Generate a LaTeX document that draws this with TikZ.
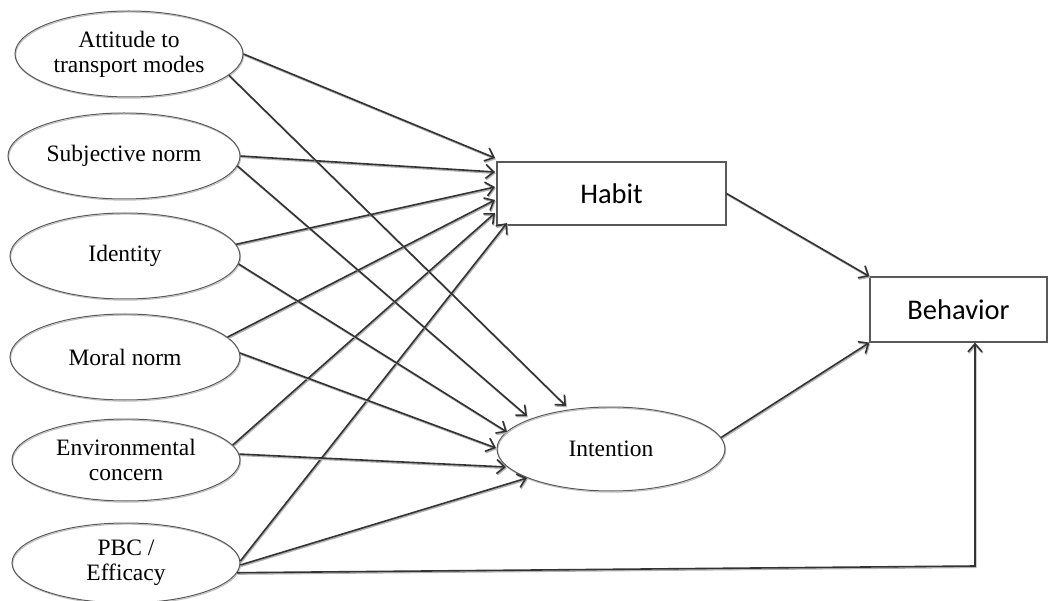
\documentclass[tikz,border=0pt]{standalone}
\usepackage{fontspec}
\setmainfont{Liberation Serif}
\newfontfamily\calibri{Carlito}
\usetikzlibrary{shapes.geometric,arrows.meta}
\begin{document}
\begin{tikzpicture}[x=1pt,y=-1pt,
  ell/.style={ellipse, draw=black!65, line width=1pt, minimum width=230pt, minimum height=86pt, inner sep=0pt, align=center, font=\fontsize{23.5}{25}\selectfont,
    preaction={draw=black!25, line width=1pt, transform canvas={shift={(0.7pt,-1.2pt)}}}},
  box/.style={rectangle, draw=black!65, line width=1.2pt, inner sep=0pt, font=\calibri\fontsize{28.5}{30}\selectfont},
  conn/.style={draw=black!80, line width=1.6pt, -{Straight Barb[length=8pt,width=14pt]},
    preaction={draw=black!30, line width=1.6pt, transform canvas={shift={(0.8pt,-1.3pt)}}}},
]
\useasboundingbox (0,0) rectangle (1049,601);

% left column
\node[ell, minimum width=228pt] (att) at (129,54) {Attitude to\\transport modes};
\node[ell, minimum width=232pt] (subj) at (124,156) {Subjective norm};
\node[ell] (iden) at (125,256) {Identity};
\node[ell] (moral) at (125,357) {Moral norm};
\node[ell, minimum width=228pt, minimum height=82pt] (env) at (126,460) {Environmental\\concern};
\node[ell, minimum width=228pt, minimum height=80pt] (pbc) at (126,563) {PBC /\\Efficacy};

% targets
\node[box, minimum width=229pt, minimum height=63pt] (habit) at (611.5,193.5) {Habit};
\node[ell, minimum width=228pt, minimum height=84pt] (int) at (611,449) {Intention};
\node[box, minimum width=177pt, minimum height=65pt] (beh) at (958.5,309.5) {Behavior};

% arrow tips on Habit
\coordinate (h1) at (495,158);
\coordinate (h2) at (495,172);
\coordinate (h3) at (495,187);
\coordinate (h4) at (495,200);
\coordinate (h5) at (495,213);
\coordinate (h6) at (507,223);
% arrow tips on Intention
\coordinate (i1) at (566,406);
\coordinate (i2) at (527,416);
\coordinate (i3) at (507,432);
\coordinate (i4) at (496,448);
\coordinate (i5) at (506,467);
\coordinate (i6) at (527,478);
% corner of PBC -> Behavior
\coordinate (pc) at (975,566);

\draw[conn] (att.east) -- (h1);
\draw[conn] (subj.east) -- (h2);
\draw[conn] (iden.6) -- (h3);
\draw[conn] (moral.11) -- (h4);
\draw[conn] (env.8) -- (h5);
\draw[conn] (pbc.1) -- (h6);

\draw[conn] (att.-12) -- (i1);
\draw[conn] (subj.-5) -- (i2);
\draw[conn] (iden.-4) -- (i3);
\draw[conn] (moral.2) -- (i4);
\draw[conn] (env.3) -- (i5);
\draw[conn] (pbc.-1) -- (i6);

\draw[conn] (habit.east) -- (beh.north west);
\draw[conn] (int.6) -- (beh.south west);
\draw[conn] (pbc.-5) -- (pc) -- (pc |- beh.south);
\end{tikzpicture}
\end{document}
